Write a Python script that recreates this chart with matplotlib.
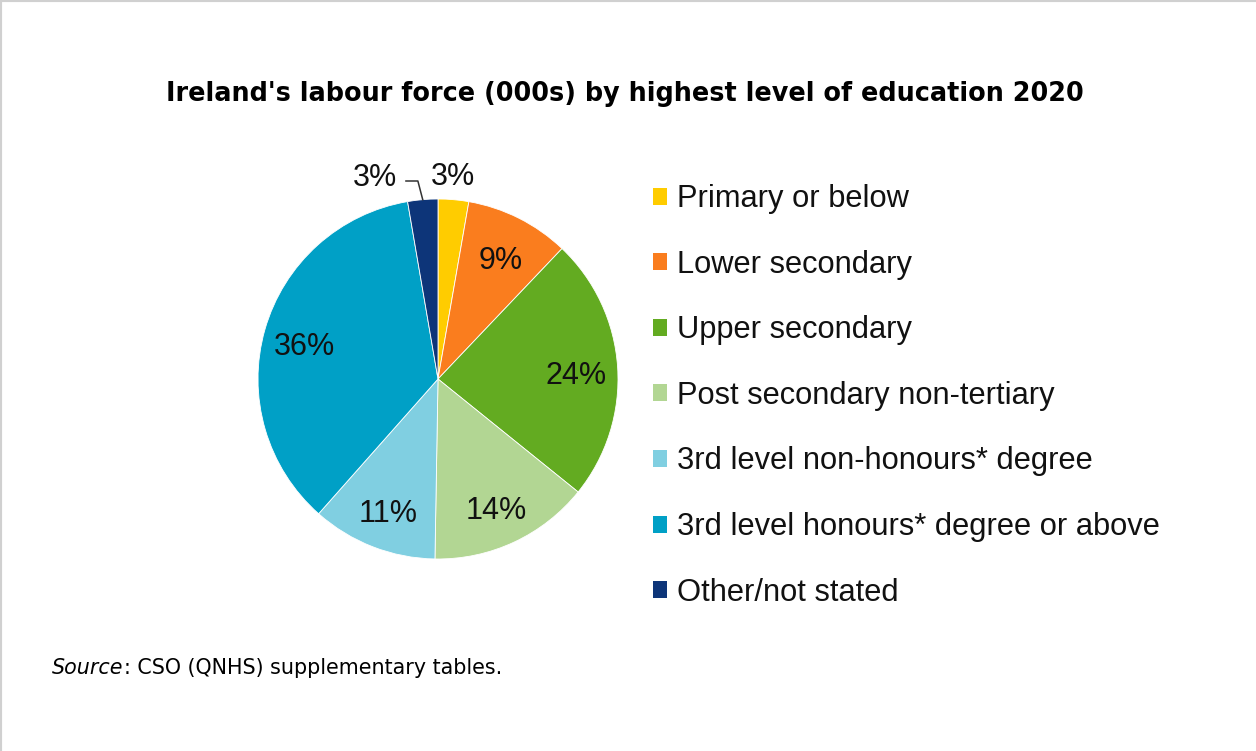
#!/usr/bin/env python3
"""Pie chart of Ireland's labour force by highest level of education, 2020."""

import matplotlib
matplotlib.use('Agg')
from matplotlib import pyplot as plt
from matplotlib.patches import Patch
import numpy as np


# Labour force (000s) by highest level of education, 2020.
CATEGORIES = [
    'Primary or below',
    'Lower secondary',
    'Upper secondary',
    'Post secondary non-tertiary',
    '3rd level non-honours* degree',
    '3rd level honours* degree or above',
    'Other/not stated',
]
LABOUR_FORCE = [66, 225, 570, 348, 271, 860, 65]
COLOURS = ['#FFCC00', '#FA7D1E', '#63AB21', '#B2D693',
           '#80CFE1', '#00A0C6', '#0D3579']

LABEL_FONT = ['Liberation Sans', 'DejaVu Sans']


def main():
    """Draw the pie, its labels and the legend."""
    fig = plt.figure(figsize=(12.56, 7.51), dpi=100)
    W, H = 1256, 751

    # pie centred at (438, 379) px with a 180 px radius
    cx, cy, r = 438, 379, 180
    ax = fig.add_axes([(cx - r) / W, (H - cy - r) / H, 2 * r / W, 2 * r / H])

    values = np.array(LABOUR_FORCE, dtype=float)
    shares = values / values.sum() * 100

    wedges, _ = ax.pie(values, colors=COLOURS, startangle=90,
                       counterclock=False, radius=1,
                       wedgeprops=dict(edgecolor='white', linewidth=0.6))
    ax.set_xlim(-1, 1)
    ax.set_ylim(-1, 1)
    ax.axis('off')
    for w in wedges:
        w.set_clip_on(False)

    lbl = dict(fontsize=22, family=LABEL_FONT, color='#111111',
               textcoords='offset pixels', annotation_clip=False)

    # percentage labels: inside for big slices, outside for the small ones
    for i, w in enumerate(wedges):
        mid = np.deg2rad((w.theta1 + w.theta2) / 2)
        txt = '{:.0f}%'.format(shares[i])
        if shares[i] >= 5:
            d = 0.77
            ax.annotate(txt, (d * np.cos(mid), d * np.sin(mid)),
                        xytext=(0, -6), ha='center', va='center', **lbl)
        elif i == 0:
            ax.annotate(txt, (1.15 * np.cos(mid), 1.14 * np.sin(mid)),
                        xytext=(-3, -2), ha='center', va='center', **lbl)
        else:
            ex, ey = np.cos(mid), np.sin(mid)
            ax.plot([-0.178, ex - 0.027, ex], [1.10, 1.10, ey], color='#333333',
                    lw=1.1, clip_on=False)
            ax.annotate(txt, (-0.228, 1.13), xytext=(0, -2), ha='right',
                        va='center', **lbl)

    handles = [Patch(facecolor=c, edgecolor='none') for c in COLOURS]
    leg = fig.legend(handles, CATEGORIES, loc='upper left',
                     bbox_to_anchor=(653 / W, 1 - 184 / H), frameon=False,
                     prop=dict(family=LABEL_FONT, size=22.2),
                     handlelength=0.47, handleheight=0.47, handletextpad=0.3,
                     labelspacing=1.155, borderpad=0, borderaxespad=0)
    for t in leg.get_texts():
        t.set_color('#111111')

    fig.text(625 / W, 1 - 94 / H,
             "Ireland's labour force (000s) by highest level of education 2020",
             ha='center', va='center', fontsize=18.4, fontweight='bold',
             family='DejaVu Sans')
    src = fig.text(52 / W, 1 - 668 / H, 'Source', ha='left', va='center',
                   fontsize=14.9, style='italic', family='DejaVu Sans')
    fig.canvas.draw()
    bb = src.get_window_extent()
    fig.text(bb.x1 / W, 1 - 668 / H, ': CSO (QNHS) supplementary tables.',
             ha='left', va='center', fontsize=14.9, family='DejaVu Sans')

    # light grey frame along the top and left edges
    fig.add_artist(plt.Line2D([0, 0, 1], [0, 1, 1], transform=fig.transFigure,
                              color='#D0D0D0', lw=3))

    fig.savefig('out.png', dpi=100)


if __name__ == '__main__':
    main()
